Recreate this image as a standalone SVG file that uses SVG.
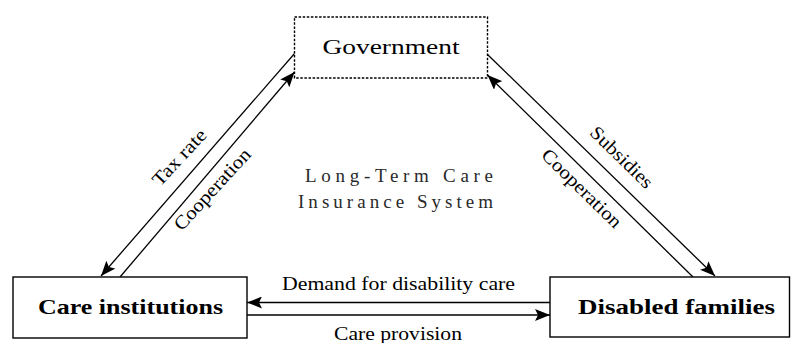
<svg xmlns="http://www.w3.org/2000/svg" width="792" height="343" viewBox="0 0 792 343">
  <style>
    .box { fill: #ffffff; stroke: #000000; stroke-width: 1.4; }
    .dotted { stroke-dasharray: 2.5 1.6; }
    .edge { fill: none; stroke: #000000; stroke-width: 1.3; marker-end: url(#arrow); }
    .lbl { font-family: "Liberation Serif", "Times New Roman", serif; font-size: 19px; fill: #000000; text-anchor: middle; }
    .name { font-family: "Liberation Serif", "Times New Roman", serif; font-size: 22px; fill: #000000; text-anchor: middle; }
    .bold { font-weight: bold; font-size: 21px; }
    .center { font-family: "Liberation Serif", "Times New Roman", serif; font-size: 19px; fill: #2a2a2a; }
  </style>
  <defs>
    <marker id="arrow" markerUnits="userSpaceOnUse" markerWidth="16" markerHeight="12" refX="15" refY="6" orient="auto">
      <path d="M0,0 L15,6 L0,12 L3,6 z" fill="#000000"/>
    </marker>
  </defs>

  <rect width="792" height="343" fill="#ffffff"/>

  <!-- connectors -->
  <g id="connectors">
    <line class="edge" x1="295" y1="53" x2="101" y2="276"/>
    <line class="edge" x1="120" y1="277" x2="294.5" y2="72"/>
    <line class="edge" x1="487" y1="54" x2="715" y2="276"/>
    <line class="edge" x1="693" y1="277" x2="487.5" y2="75"/>
    <line class="edge" x1="550" y1="302.5" x2="247" y2="302.5"/>
    <line class="edge" x1="247" y1="315" x2="550" y2="315"/>

    <text class="lbl" transform="translate(179,157) rotate(-47)" dy="0.35em" textLength="70" lengthAdjust="spacingAndGlyphs">Tax rate</text>
    <text class="lbl" transform="translate(212,189) rotate(-47.5)" dy="0.35em" textLength="104" lengthAdjust="spacingAndGlyphs">Cooperation</text>
    <text class="lbl" transform="translate(622,157) rotate(44.4)" dy="0.35em" textLength="80" lengthAdjust="spacingAndGlyphs">Subsidies</text>
    <text class="lbl" transform="translate(582,188) rotate(44.4)" dy="0.35em" textLength="104" lengthAdjust="spacingAndGlyphs">Cooperation</text>
    <text class="lbl" x="398.5" y="290" textLength="233" lengthAdjust="spacingAndGlyphs">Demand for disability care</text>
    <text class="lbl" x="398" y="340" textLength="128" lengthAdjust="spacingAndGlyphs">Care provision</text>
  </g>

  <!-- nodes -->
  <g id="government">
    <rect class="box dotted" x="294.5" y="17" width="193" height="61"/>
    <text class="name" x="391" y="54" textLength="137" lengthAdjust="spacingAndGlyphs">Government</text>
  </g>

  <g id="care-institutions">
    <rect class="box" x="13" y="277" width="234" height="61"/>
    <text class="name bold" x="130.5" y="314" textLength="185" lengthAdjust="spacingAndGlyphs">Care institutions</text>
  </g>

  <g id="disabled-families">
    <rect class="box" x="550" y="277" width="239.5" height="60"/>
    <text class="name bold" x="676.5" y="314" textLength="197" lengthAdjust="spacingAndGlyphs">Disabled families</text>
  </g>

  <g id="system-title">
    <text class="center" x="305" y="182" textLength="188" lengthAdjust="spacing">Long-Term Care</text>
    <text class="center" x="298" y="208" textLength="195" lengthAdjust="spacing">Insurance System</text>
  </g>
</svg>
